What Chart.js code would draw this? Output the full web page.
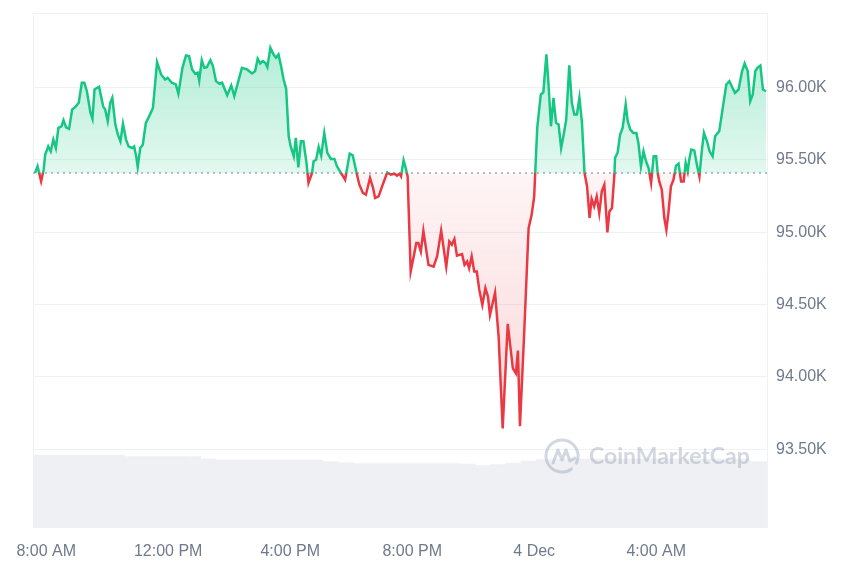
<!DOCTYPE html>
<html>
<head>
<meta charset="utf-8">
<script src="https://cdn.jsdelivr.net/npm/chart.js@4.4.1/dist/chart.umd.min.js"></script>
<style>
  html, body { margin: 0; padding: 0; background: #fff; }
  #wrap { width: 860px; height: 573px; }
</style>
</head>
<body>
<div id="wrap"><canvas id="priceChart" width="860" height="573"></canvas></div>
<script>
// price points: minutes after 8:00 AM (3 Dec), price in USD
const times = [-22, -17, -10, -5, -2, 4, 9, 14, 19, 24, 30, 34, 39, 45, 51, 57, 64, 70, 75, 80,
  87, 91, 95, 104, 112, 116, 121, 126, 130, 136, 141, 146, 151, 157, 162, 169, 173, 177, 180, 185,
  190, 196, 201, 210, 218, 226, 234, 239, 247, 255, 260, 268, 275, 281, 287, 293, 298, 301, 306, 311,
  316, 323, 328, 334, 341, 346, 356, 364, 370, 385, 395, 405, 411, 416, 421, 426, 431, 435, 441, 447,
  452, 457, 462, 467, 472, 477, 481, 487, 491, 496, 501, 506, 512, 516, 523, 526, 531, 536, 541, 547,
  553, 560, 567, 572, 578, 584, 588, 597, 603, 610, 616, 623, 629, 637, 643, 647, 654, 662, 671, 678,
  685, 690, 695, 698, 703, 708, 711, 717, 723, 728, 732, 737, 742, 752, 762, 769, 777, 787, 793, 798,
  803, 808, 818, 823, 828, 832, 837, 842, 847, 852, 858, 864, 869, 873, 883, 890, 898, 908, 918, 924,
  928, 932, 940, 949, 955, 960, 962, 966, 973, 978, 984, 988, 993, 998, 1003, 1008, 1013, 1018, 1023, 1029,
  1034, 1039, 1044, 1049, 1054, 1059, 1064, 1069, 1073, 1078, 1083, 1088, 1093, 1098, 1104, 1108, 1113, 1118, 1119, 1124,
  1129, 1134, 1140, 1144, 1149, 1155, 1161, 1165, 1170, 1175, 1180, 1185, 1190, 1195, 1200, 1203, 1206, 1211, 1216, 1220,
  1224, 1229, 1234, 1239, 1244, 1249, 1254, 1258, 1262, 1265, 1269, 1275, 1280, 1285, 1290, 1294, 1300, 1305, 1311, 1316,
  1324, 1331, 1338, 1344, 1350, 1355, 1362, 1369, 1374, 1380, 1385, 1390, 1395, 1399, 1405, 1410, 1416];
const prices = [95409, 95455, 95351, 95432, 95536, 95593, 95559, 95640, 95582, 95721, 95732, 95774, 95725, 95714, 95848, 95864, 95894, 96033, 96033, 95974,
  95825, 95783, 95986, 96005, 95870, 95848, 95767, 95894, 95929, 95744, 95674, 95628, 95749, 95640, 95593, 95582, 95593, 95524, 95451, 95582,
  95605, 95756, 95790, 95859, 96175, 96090, 96055, 96067, 96033, 96021, 95956, 96136, 96222, 96217, 96125, 96095, 96102, 96048, 96189, 96136,
  96141, 96189, 96148, 96044, 96026, 96033, 95947, 96014, 95940, 96136, 96125, 96097, 96113, 96199, 96166, 96182, 96171, 96141, 96275, 96229,
  96206, 96229, 96148, 96055, 95991, 95663, 95593, 95524, 95652, 95448, 95628, 95628, 95479, 95340, 95409, 95490, 95501, 95589, 95529, 95686,
  95548, 95506, 95506, 95455, 95420, 95386, 95363, 95543, 95531, 95420, 95328, 95271, 95259, 95375, 95305, 95236, 95247, 95328, 95413, 95398,
  95404, 95391, 95404, 95386, 95497, 95432, 95386, 94728, 94832, 94925, 94925, 94866, 95010, 94774, 94762, 94832, 95010, 94762, 94936, 94913,
  94952, 94837, 94848, 94774, 94797, 94751, 94832, 94728, 94728, 94601, 94497, 94613, 94555, 94428, 94582, 94278, 93643, 94366, 94059, 94024,
  94181, 93659, 94278, 95028, 95120, 95247, 95409, 95721, 95952, 95967, 96229, 96033, 95732, 95929, 95756, 95744, 95582, 95674, 95778, 96154,
  95894, 95813, 95813, 95929, 95756, 95409, 95317, 95098, 95229, 95178, 95247, 95132, 95282, 95328, 94998, 95143, 95167, 95409, 95513, 95548,
  95674, 95721, 95882, 95767, 95709, 95686, 95686, 95617, 95455, 95559, 95490, 95444, 95340, 95524, 95524, 95409, 95351, 95294, 95098, 95017,
  95132, 95317, 95363, 95460, 95474, 95351, 95351, 95479, 95420, 95501, 95571, 95564, 95467, 95386, 95571, 95686, 95628, 95559, 95524, 95663,
  95697, 95859, 96021, 96044, 95998, 95963, 95986, 96113, 96166, 96113, 95905, 95952, 96113, 96136, 96152, 95986, 95974];
const openPrice = 95409;

// 24h volume (billions), 30 min buckets
const volTimes = [-11, 19, 49, 79, 109, 139, 169, 199, 229, 259, 289, 319, 349, 379, 409, 439, 469, 499, 529, 559,
  589, 619, 649, 679, 709, 739, 769, 799, 829, 859, 889, 919, 949, 979, 1009, 1039, 1069, 1099, 1129, 1159,
  1189, 1219, 1249, 1279, 1309, 1339, 1369, 1399, 1429];
const volumes = [73, 73, 73, 73, 73, 73, 71.3, 71.3, 71.3, 71.3, 71.3, 69, 68, 68, 68, 68, 68, 68, 68, 66.5,
  65.5, 64.5, 64.5, 64.5, 64.5, 64.5, 64.5, 64.5, 64, 62.5, 63.5, 65, 67, 68.5, 69, 69, 69, 69, 69, 69,
  69, 69, 69, 69, 69, 69, 69, 66.5, 66];

const xTickValues = [0, 240, 480, 720, 960, 1200];
const xTickLabels = ['8:00 AM', '12:00 PM', '4:00 PM', '8:00 PM', '4 Dec', '4:00 AM'];
const yTickValues = [93500, 94000, 94500, 95000, 95500, 96000];

const green = '#16c784';
const red = '#ea3943';
const gridColor = '#eff2f5';
const labelColor = '#6f7a8d';
const fontFamily = '"Liberation Sans", Arial, Helvetica, sans-serif';

// line colour switches exactly at the opening price
function priceBorder(context) {
    const chart = context.chart;
    const area = chart.chartArea;
    if (!area) return green;
    const yb = chart.scales.y.getPixelForValue(openPrice);
    const stop = Math.min(Math.max((yb - area.top) / (area.bottom - area.top), 0), 1);
    const g = chart.ctx.createLinearGradient(0, area.top, 0, area.bottom);
    g.addColorStop(0, green);
    g.addColorStop(stop, green);
    g.addColorStop(stop, red);
    g.addColorStop(1, red);
    return g;
}

function priceFill(context) {
    const chart = context.chart;
    const area = chart.chartArea;
    if (!area) return { value: openPrice, above: 'rgba(22,199,132,0.2)', below: 'rgba(234,57,67,0.1)' };
    const y = chart.scales.y;
    const yb = y.getPixelForValue(openPrice);
    const yHi = y.getPixelForValue(Math.max(...prices));
    const yLo = y.getPixelForValue(Math.min(...prices));
    const up = chart.ctx.createLinearGradient(0, yHi, 0, yb);
    up.addColorStop(0, 'rgba(22,199,132,0.32)');
    up.addColorStop(1, 'rgba(22,199,132,0.12)');
    const down = chart.ctx.createLinearGradient(0, yb, 0, yLo);
    down.addColorStop(0, 'rgba(234,57,67,0.05)');
    down.addColorStop(1, 'rgba(234,57,67,0.2)');
    return { value: openPrice, above: up, below: down };
}

// thin frame round the plot (top, left, right)
const frame = {
    id: 'frame',
    beforeDatasetsDraw(chart) {
        const { ctx, chartArea: a } = chart;
        ctx.save();
        ctx.strokeStyle = gridColor;
        ctx.lineWidth = 1;
        ctx.beginPath();
        ctx.moveTo(Math.round(a.left) + 0.5, a.bottom);
        ctx.lineTo(Math.round(a.left) + 0.5, Math.round(a.top) + 0.5);
        ctx.lineTo(Math.round(a.right) + 0.5, Math.round(a.top) + 0.5);
        ctx.lineTo(Math.round(a.right) + 0.5, a.bottom);
        ctx.stroke();
        ctx.restore();
    }
};

const watermark = {
    id: 'watermark',
    afterDatasetsDraw(chart) {
        const { ctx, chartArea: a } = chart;
        const cx = a.right - 205, cy = a.bottom - 72;
        const c = 'rgba(150,160,178,0.42)';
        ctx.save();
        ctx.strokeStyle = c;
        ctx.fillStyle = c;
        ctx.lineWidth = 3;
        ctx.lineJoin = 'round';
        ctx.lineCap = 'round';
        ctx.beginPath();
        ctx.arc(cx, cy, 16, 0.3 * Math.PI, 2.15 * Math.PI);
        ctx.stroke();
        ctx.beginPath();
        ctx.moveTo(cx - 9, cy + 7);
        ctx.lineTo(cx - 4, cy - 6);
        ctx.lineTo(cx, cy + 4);
        ctx.lineTo(cx + 4, cy - 6);
        ctx.lineTo(cx + 8, cy + 5);
        ctx.lineTo(cx + 13, cy + 2);
        ctx.stroke();
        ctx.font = '700 23px Lato, Inter, sans-serif';
        ctx.textAlign = 'left';
        ctx.textBaseline = 'middle';
        ctx.fillText('CoinMarketCap', cx + 27, cy + 1);
        ctx.restore();
    }
};

const ctx = document.getElementById('priceChart').getContext('2d');
const priceChart = new Chart(ctx, {
    type: 'line',
    data: {
        datasets: [{
            label: 'Price',
            data: times.map((t, i) => ({ x: t, y: prices[i] })),
            yAxisID: 'y',
            borderColor: priceBorder,
            borderWidth: 2.5,
            pointRadius: 0,
            tension: 0,
            fill: priceFill,
            order: 1
        }, {
            label: 'Open',
            data: [{ x: -26, y: openPrice }, { x: 1418, y: openPrice }],
            yAxisID: 'y',
            borderColor: '#a1a9b8',
            borderWidth: 1.5,
            borderDash: [2, 4],
            pointRadius: 0,
            fill: false,
            order: 2
        }, {
            type: 'bar',
            label: 'Volume',
            data: volTimes.map((t, i) => ({ x: t, y: volumes[i] })),
            yAxisID: 'yv',
            backgroundColor: '#eef0f4',
            barPercentage: 1,
            categoryPercentage: 1,
            order: 3
        }]
    },
    options: {
        responsive: false,
        animation: false,
        layout: { padding: { left: 33, top: 13, right: 0, bottom: 0 } },
        plugins: {
            legend: { display: false },
            tooltip: { enabled: false }
        },
        scales: {
            x: {
                type: 'linear',
                min: -26,
                max: 1418,
                offset: false,
                grid: { display: false, offset: false },
                border: { display: false },
                afterBuildTicks: s => { s.ticks = xTickValues.map(v => ({ value: v })); },
                afterFit: s => { s.height = 45; s.paddingLeft = 0; s.paddingRight = 0; },
                ticks: {
                    autoSkip: false,
                    maxRotation: 0,
                    padding: 6,
                    color: labelColor,
                    font: { family: fontFamily, size: 16 },
                    callback: (v) => xTickLabels[xTickValues.indexOf(v)]
                }
            },
            y: {
                position: 'right',
                min: 92955,
                max: 96515,
                grid: { color: gridColor, drawTicks: false },
                border: { display: false },
                afterBuildTicks: s => { s.ticks = yTickValues.map(v => ({ value: v })); },
                afterFit: s => { s.width = 93; s.paddingTop = 0; s.paddingBottom = 0; },
                ticks: {
                    padding: 9,
                    color: labelColor,
                    font: { family: fontFamily, size: 16 },
                    callback: (v) => (v / 1000).toFixed(2) + 'K'
                }
            },
            yv: {
                display: false,
                min: 0,
                max: 515
            }
        }
    },
    plugins: [frame, watermark]
});
</script>
</body>
</html>
